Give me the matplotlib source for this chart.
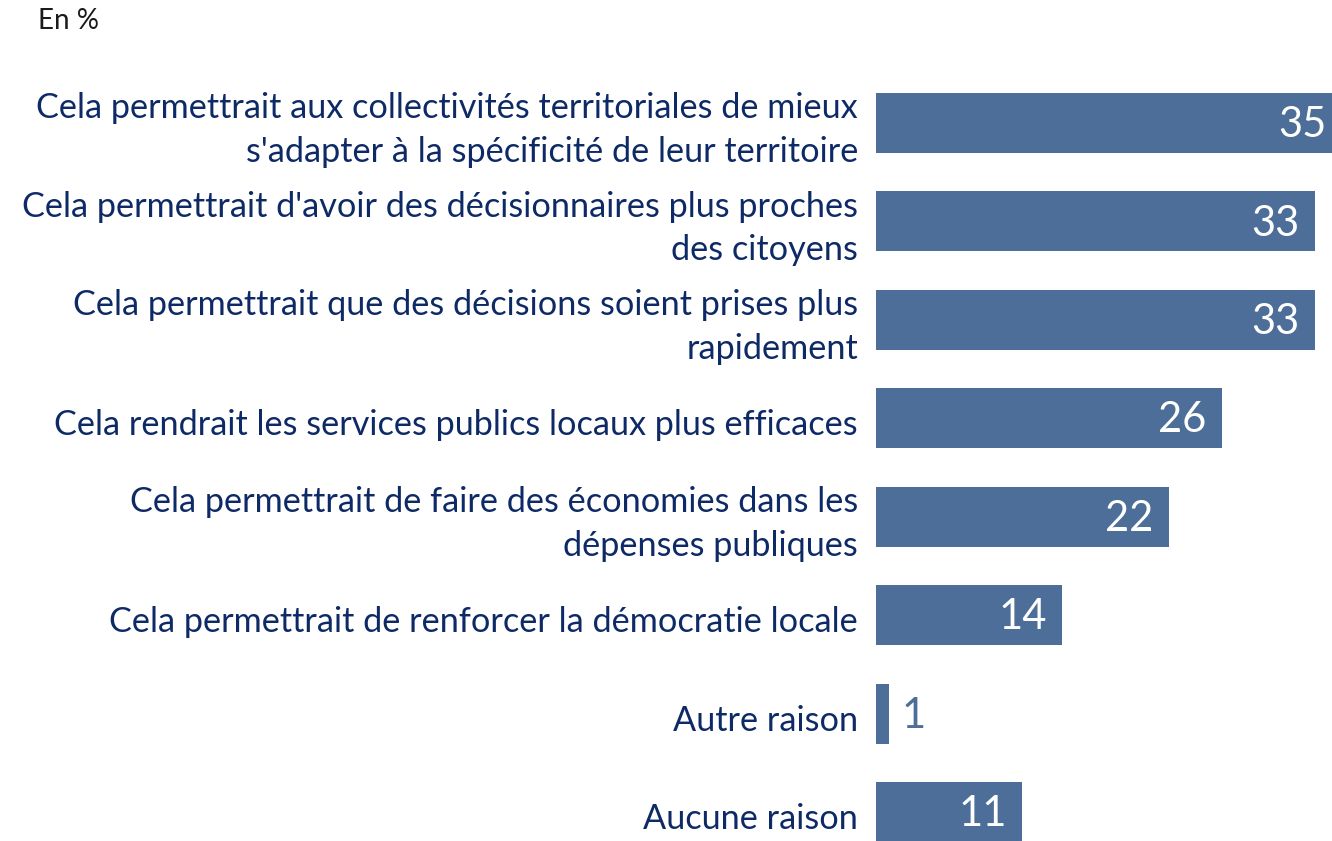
import matplotlib
matplotlib.use("Agg")
import matplotlib.pyplot as plt

categories = [
    "Cela permettrait aux collectivités territoriales de mieux\ns'adapter à la spécificité de leur territoire",
    "Cela permettrait d'avoir des décisionnaires plus proches\ndes citoyens",
    "Cela permettrait que des décisions soient prises plus\nrapidement",
    "Cela rendrait les services publics locaux plus efficaces",
    "Cela permettrait de faire des économies dans les\ndépenses publiques",
    "Cela permettrait de renforcer la démocratie locale",
    "Autre raison",
    "Aucune raison",
]
values = [35, 33, 33, 26, 22, 14, 1, 11]

BAR = "#4C6E98"
NAVY = "#0E2A66"
FONT = "Lato"

W, H = 1332, 841
fig = plt.figure(figsize=(W / 100, H / 100), dpi=100)
ax = fig.add_axes([876 / W, 0, 1 - 876 / W, 1])

ypos = list(range(len(values)))
ax.barh(ypos, values, height=0.61, color=BAR, edgecolor="none")

px_per_unit = 13.3
ax.set_xlim(0, (W - 876) / px_per_unit)
spacing = 98.43
ax.set_ylim(7 + (H - 812) / spacing, -123 / spacing)
ax.axis("off")

for y, v in zip(ypos, values):
    if v >= 5:
        ax.annotate(str(v), (v, y), xytext=(-11, -1.5), textcoords="offset points",
                    ha="right", va="center", color="white", fontsize=30,
                    family=FONT, annotation_clip=False)
    else:
        ax.annotate(str(v), (v, y), xytext=(9, -1.5), textcoords="offset points",
                    ha="left", va="center", color=BAR, fontsize=30,
                    family=FONT, annotation_clip=False)
    ax.annotate(categories[y], (0, y), xytext=(-13, -5), textcoords="offset points",
                ha="right", va="center", color=NAVY, fontsize=24.7,
                family=FONT, linespacing=1.45, multialignment="right",
                annotation_clip=False)

fig.text(38 / W, 1 - 8 / H, "En %", ha="left", va="top", fontsize=20,
         color="#1a1a1a", family=FONT)

fig.savefig("out.png", dpi=100)
